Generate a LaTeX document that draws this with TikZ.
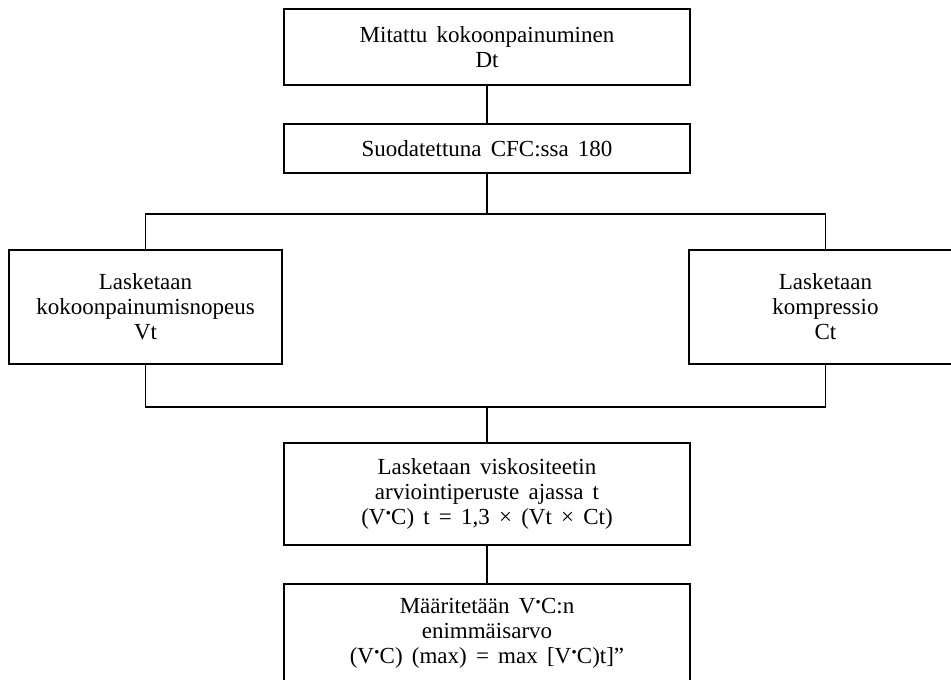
\documentclass[tikz,border=0pt]{standalone}
\usepackage{fontspec}
\setmainfont[WordSpace=1.6]{Liberation Serif}
\newcommand{\vdotc}{V\kern0.5pt\raisebox{0.85ex}{\fontsize{9}{9}\selectfont$\bullet$}\kern0.5pt C}
\begin{document}
\begin{tikzpicture}[x=1pt,y=-1pt,
  box/.style={draw, line width=1.3pt, align=center, inner sep=0pt,
    font=\fontsize{23}{25}\selectfont},
  conn/.style={line width=1.3pt}]
\useasboundingbox (0,0) rectangle (951,680);
\clip (0,0) rectangle (951,680);
\node[box, minimum width=406pt, minimum height=76pt] (meas) at (487,47) {Mitattu kokoonpainuminen\\Dt};
\node[box, minimum width=406pt, minimum height=49pt] (filt) at (487,148.5) {Suodatettuna CFC:ssa 180};
\node[box, minimum width=273pt, minimum height=114pt] (velo) at (145.5,307) {Lasketaan\\kokoonpainumisnopeus\\Vt};
\node[box, minimum width=273pt, minimum height=114pt] (comp) at (825.5,307) {Lasketaan\\kompressio\\Ct};
\node[box, minimum width=406pt, minimum height=102pt] (visc) at (487,494) {Lasketaan viskositeetin\\arviointiperuste ajassa t\\(\vdotc) t = 1,3 × (Vt × Ct)};
\node[box, minimum width=406pt, minimum height=98pt] (maxv) at (487,633) {Määritetään \vdotc:n\\enimmäisarvo\\(\vdotc) (max) = max [\vdotc)t]”};
\coordinate (jt) at (487,214);
\coordinate (jb) at (487,407);
\draw[conn] (meas) -- (filt);
\draw[conn] (filt) -- (jt);
\draw[conn] (velo.north) |- (jt) -| (comp.north);
\draw[conn] (velo.south) |- (jb) -| (comp.south);
\draw[conn] (jb) -- (visc);
\draw[conn] (visc) -- (maxv);
\end{tikzpicture}
\end{document}
